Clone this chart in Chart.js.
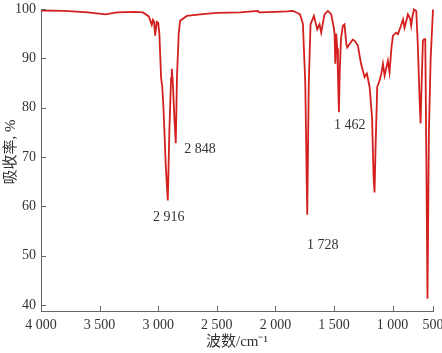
<!DOCTYPE html>
<html>
<head>
<meta charset="utf-8">
<script src="https://cdn.jsdelivr.net/npm/chart.js@4.4.0/dist/chart.umd.min.js"></script>
<style>
  html, body { margin: 0; padding: 0; background: #fff; }
  #wrap { width: 442px; height: 353px; }
</style>
</head>
<body>
<div id="wrap"><canvas id="irChart" width="442" height="353"></canvas></div>
<script>
// --- Data: IR spectrum ---
const wavenumbers = [
    4000, 3800, 3600, 3450, 3350, 3200, 3130, 3080, 3055, 3045,
    3035, 3026, 3012, 3000, 2990, 2975, 2965, 2955, 2935, 2918,
    2905, 2890, 2884, 2875, 2862, 2850, 2840, 2825, 2813, 2756,
    2642, 2500, 2300, 2149, 2140, 2000, 1900, 1851, 1820, 1790,
    1765, 1745, 1728, 1715, 1700, 1671, 1643, 1623, 1609, 1581,
    1552, 1523, 1500, 1495, 1489, 1481, 1472, 1466, 1458, 1450,
    1440, 1424, 1410, 1395, 1387, 1367, 1340, 1325, 1296, 1270,
    1253, 1239, 1219, 1196, 1175, 1162, 1154, 1145, 1131, 1111,
    1095, 1082, 1068, 1040, 1026, 1010, 997, 969, 954, 930,
    911, 898, 869, 850, 841, 830, 818, 798, 785, 770,
    761, 752, 741, 730, 721, 712, 702, 690, 675, 655
];
const absorbance = [
    99.7, 99.6, 99.3, 98.9, 99.3, 99.4, 99.3, 98.5, 96.8, 97.8,
    97.4, 94.6, 97.4, 97.2, 95.0, 86.0, 84.2, 80.0, 68.0, 61.2,
    75.0, 86.0, 87.9, 85.0, 78.0, 72.8, 86.0, 95.0, 97.6, 98.6,
    98.9, 99.2, 99.3, 99.6, 99.3, 99.4, 99.5, 99.6, 99.3, 98.9,
    97.0, 85.0, 58.3, 85.0, 96.9, 98.6, 95.9, 96.9, 95.2, 98.9,
    99.6, 98.9, 96.0, 94.9, 88.9, 95.0, 92.0, 86.5, 79.1, 88.0,
    94.0, 96.6, 96.9, 93.0, 92.2, 92.9, 93.8, 93.6, 92.6, 89.0,
    87.5, 86.2, 86.9, 84.2, 78.0, 66.0, 62.8, 72.0, 84.2, 85.5,
    87.0, 88.9, 86.5, 89.5, 87.2, 92.0, 94.6, 95.2, 94.9, 96.5,
    97.9, 96.2, 98.9, 98.0, 96.6, 98.5, 99.9, 99.6, 93.0, 82.0,
    76.8, 85.0, 93.6, 93.9, 93.9, 70.0, 41.3, 75.0, 90.0, 99.9
];

// axis ticks (the last x tick sits at the plot edge and is labelled 500 in the original)
const xTickValues = [4000, 3500, 3000, 2500, 2000, 1500, 1000, 655];
const xTickLabels = ['4 000', '3 500', '3 000', '2 500', '2 000', '1 500', '1 000', '500'];
const yTickValues = [40, 50, 60, 70, 80, 90, 100];

// peak labels
const peakLabels = ['2 916', '2 848', '1 728', '1 462'];
const peakLabelX = [2910, 2778, 1596, 1366];
const peakLabelY = [57.8, 71.6, 52.2, 76.4];
const peakLabelAlign = ['center', 'left', 'center', 'center'];

const yTitle = '吸收率, %';

const serif = '"Liberation Serif", "Times New Roman", "Noto Sans CJK SC", serif';
const axisColor = '#666';
const textColor = '#333';

// --- Plugin: inward tick marks, y title, peak labels ---
const ticksAndLabels = {
    id: 'ticksAndLabels',
    afterDraw(chart) {
        const c = chart.ctx;
        const xs = chart.scales.x;
        const ys = chart.scales.y;
        const area = chart.chartArea;

        c.save();
        c.strokeStyle = axisColor;
        c.lineWidth = 1;
        c.beginPath();
        xTickValues.forEach(v => {
            if (v === 4000) return;
            const px = Math.round(xs.getPixelForValue(v)) + 0.5;
            c.moveTo(px, area.bottom);
            c.lineTo(px, area.bottom - 5);
        });
        yTickValues.forEach(v => {
            const py = Math.round(ys.getPixelForValue(v)) + 0.5;
            c.moveTo(area.left, py);
            c.lineTo(area.left + 5, py);
        });
        c.stroke();

        c.fillStyle = textColor;
        c.font = '14px ' + serif;
        c.textBaseline = 'middle';
        peakLabels.forEach((t, i) => {
            c.textAlign = peakLabelAlign[i];
            c.fillText(t, xs.getPixelForValue(peakLabelX[i]), ys.getPixelForValue(peakLabelY[i]));
        });

        // y axis title, rotated
        c.translate(11, 152);
        c.rotate(-Math.PI / 2);
        c.textAlign = 'center';
        c.font = '15px ' + serif;
        c.fillText(yTitle, 0, 0);
        c.restore();
    }
};

new Chart(document.getElementById('irChart'), {
    type: 'line',
    data: {
        datasets: [{
            data: wavenumbers.map((w, i) => ({ x: w, y: absorbance[i] })),
            borderColor: '#d41f1f',
            borderWidth: 1.8,
            pointRadius: 0,
            tension: 0,
            fill: false
        }]
    },
    options: {
        responsive: false,
        animation: false,
        clip: false,
        layout: { padding: { top: 9, right: 9, left: 0, bottom: 0 } },
        plugins: { legend: { display: false }, tooltip: { enabled: false } },
        scales: {
            x: {
                type: 'linear',
                reverse: true,
                min: 655,
                max: 4000,
                afterBuildTicks: s => { s.ticks = xTickValues.map(v => ({ value: v })); },
                afterFit: s => { s.height = 42; s.paddingLeft = 0; s.paddingRight = 0; },
                grid: { drawOnChartArea: false, drawTicks: false },
                border: { display: true, color: axisColor, width: 1 },
                ticks: {
                    autoSkip: false,
                    maxRotation: 0,
                    padding: 6,
                    color: textColor,
                    font: { family: serif, size: 14 },
                    callback: (v, i) => xTickLabels[i]
                },
                title: {
                    display: true,
                    text: '波数/cm⁻¹',
                    color: textColor,
                    font: { family: serif, size: 15 },
                    padding: { top: 0, bottom: 2 }
                }
            },
            y: {
                type: 'linear',
                min: 38.8,
                max: 100,
                afterBuildTicks: s => { s.ticks = yTickValues.map(v => ({ value: v })); },
                afterFit: s => { s.width = 41; s.paddingTop = 0; s.paddingBottom = 0; },
                grid: { drawOnChartArea: false, drawTicks: false },
                border: { display: true, color: axisColor, width: 1 },
                ticks: {
                    padding: 5,
                    color: textColor,
                    font: { family: serif, size: 14 },
                    callback: v => String(v)
                },
                title: { display: false }
            }
        }
    },
    plugins: [ticksAndLabels]
});
</script>
</body>
</html>
